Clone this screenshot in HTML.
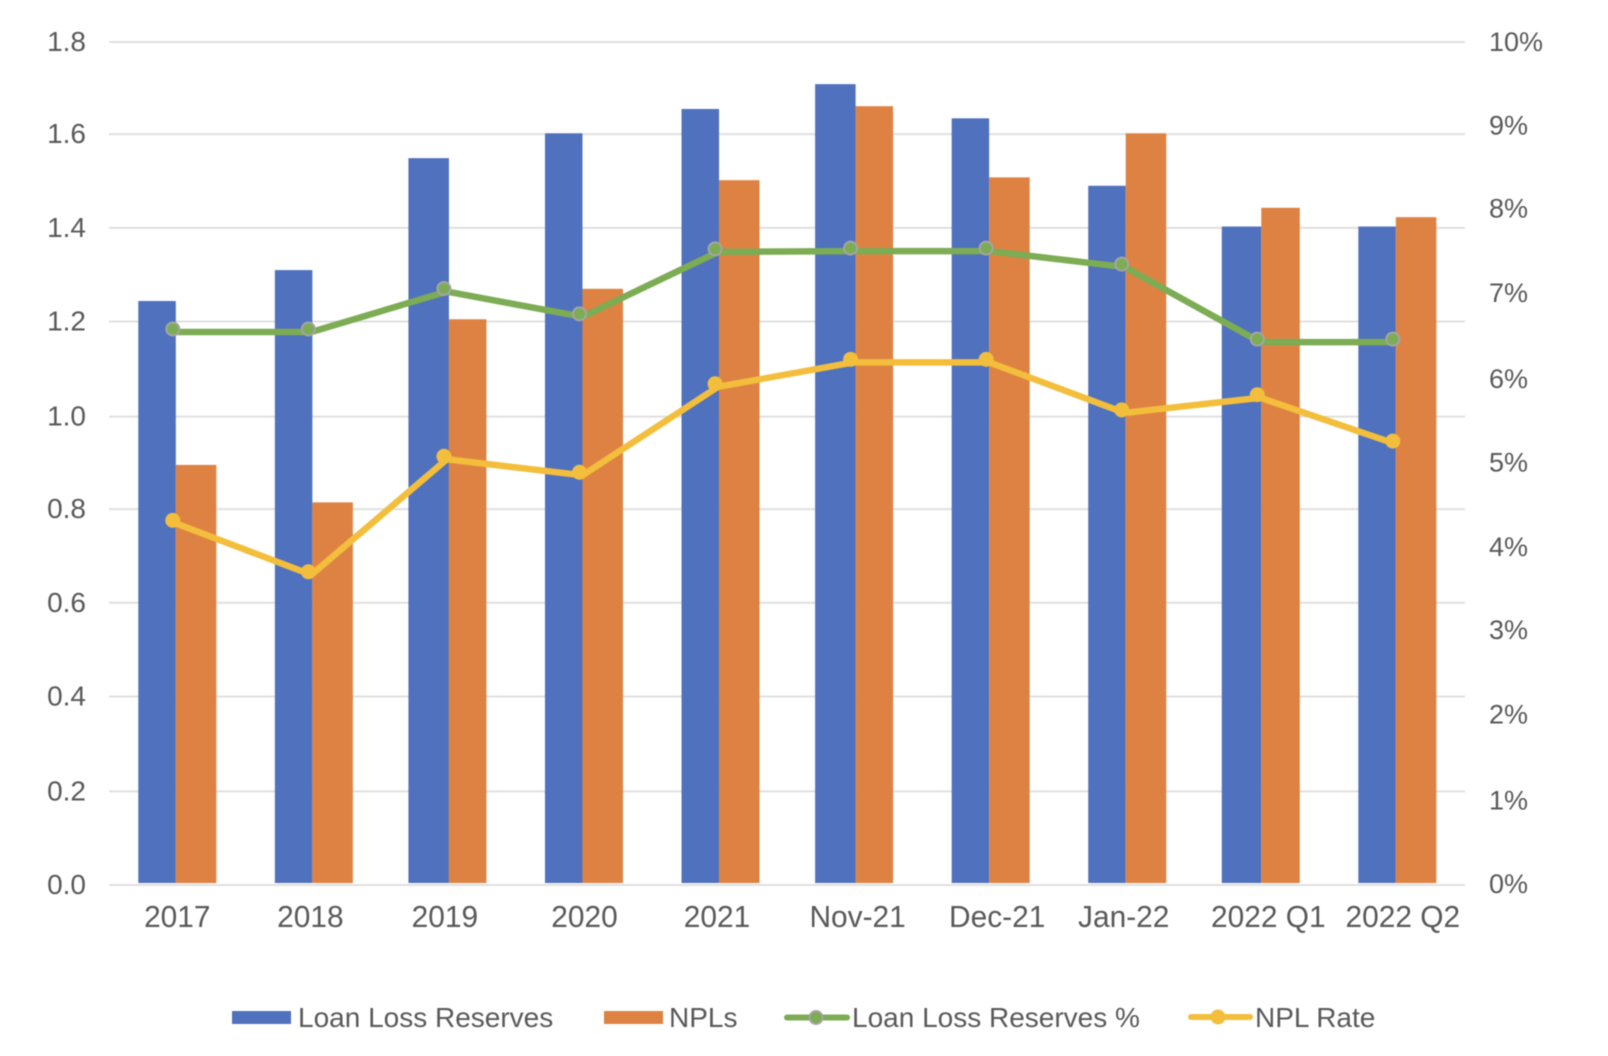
<!DOCTYPE html>
<html lang="en">
<head>
<meta charset="utf-8">
<title>Loan Loss Reserves and NPLs</title>
<style>
html,body{margin:0;padding:0;background:#fff;}
body{width:1608px;height:1056px;overflow:hidden;}
svg{display:block;filter:blur(0.5px);}
text{font-family:"Liberation Sans",Arial,sans-serif;fill:#595959;}
</style>
</head>
<body>
<svg id="chart" xmlns="http://www.w3.org/2000/svg" width="1608" height="1056" viewBox="0 0 1608 1056">
  <g id="grid"></g>
  <g id="bars"></g>
  <g id="lines"></g>
  <g id="left-axis"></g>
  <g id="right-axis"></g>
  <g id="x-axis"></g>
  <g id="legend">
    <g>
      <rect x="232" y="1011" width="59" height="13" fill="#5071BD"/>
      <text x="298" y="1027" font-size="28">Loan Loss Reserves</text>
    </g>
    <g>
      <rect x="604" y="1011" width="59" height="13" fill="#DE8243"/>
      <text x="669" y="1027" font-size="28">NPLs</text>
    </g>
    <g>
      <line x1="787" y1="1017.5" x2="847" y2="1017.5" stroke="#7CAC53" stroke-width="6" stroke-linecap="round"/>
      <circle cx="816" cy="1017.5" r="6.5" fill="#7CAC53" stroke="#A5A5A5" stroke-width="2"/>
      <text x="852" y="1027" font-size="28">Loan Loss Reserves %</text>
    </g>
    <g>
      <line x1="1191" y1="1017" x2="1250" y2="1017" stroke="#F3BE3B" stroke-width="6" stroke-linecap="round"/>
      <circle cx="1218" cy="1017" r="7.5" fill="#F3BE3B"/>
      <text x="1255" y="1027" font-size="28">NPL Rate</text>
    </g>
  </g>
</svg>
<script>
const categories = ["2017","2018","2019","2020","2021","Nov-21","Dec-21","Jan-22","2022 Q1","2022 Q2"];
const loanLossReserves = [1.247,1.313,1.552,1.605,1.657,1.710,1.637,1.493,1.406,1.406];
const npls = [0.897,0.817,1.208,1.273,1.505,1.663,1.511,1.605,1.446,1.426];
const loanLossReservesPct = [6.56,6.56,7.04,6.74,7.51,7.52,7.52,7.33,6.44,6.44];
const nplRate = [4.29,3.68,5.05,4.86,5.91,6.20,6.20,5.60,5.78,5.23];
const leftTicks = [0,0.2,0.4,0.6,0.8,1.0,1.2,1.4,1.6,1.8];
const rightTicks = [0,1,2,3,4,5,6,7,8,9,10];

const NS = "http://www.w3.org/2000/svg";
const plotTop = 42, plotBottom = 885, gridLeft = 109, gridRight = 1465;
const groupStart = 138.3, groupStep = 135.56, blueWidth = 37.5, groupWidth = 78;
const leftMax = 1.8, rightMax = 10;
const markerDx = -3, markerDy = -3;

function yLeft(v){ return plotBottom - (v / leftMax) * (plotBottom - plotTop); }
function yRight(v){ return plotBottom - (v / rightMax) * (plotBottom - plotTop); }
function groupX(i){ return groupStart + i * groupStep; }
function splitX(i){ return groupX(i) + blueWidth; }
function make(tag, parentId){
  const el = document.createElementNS(NS, tag);
  document.getElementById(parentId).appendChild(el);
  return el;
}
function slug(s){ return String(s).toLowerCase().replace(/[^a-z0-9]+/g, '-'); }

/* the reference image is slightly resampled, so these layout nudges follow its pixel drift */
function gridNudge(t){ return (t >= 1.2 && t <= 1.6) ? -1.5 : (t >= 0.4 && t <= 0.8) ? -1.2 : 0; }
function rightLabelNudge(i){ return [-1,0,-2,-2,-1,-1,0,-2,-2,-1,0][i]; }
function xLabelNudge(i){ return [-0.5,-3,-4,0,-3,2,6,-3,6,5][i]; }
function groupNudge(i){ return [0,1,-1,0,1,-1,0,1,-1,0][i]; }
function splitNudge(i){ return [0,1,2,0,1,2,0,1,1,0][i]; }

leftTicks.forEach(function(t){
  const line = make('line', 'grid');
  
  
  line.setAttribute('x1', gridLeft);
  line.setAttribute('x2', gridRight);
  line.setAttribute('y1', yLeft(t) + gridNudge(t));
  line.setAttribute('y2', yLeft(t) + gridNudge(t));
  line.setAttribute('stroke', '#E0E0E0');
  line.setAttribute('stroke-width', 2);

  const label = make('text', 'left-axis');
  
  
  label.setAttribute('x', 86);
  label.setAttribute('y', yLeft(t) + gridNudge(t) + 9);
  label.setAttribute('text-anchor', 'end');
  label.setAttribute('font-size', 28);
  label.textContent = t.toFixed(1);
});

rightTicks.forEach(function(t, i){
  const label = make('text', 'right-axis');
  
  
  label.setAttribute('x', 1489);
  label.setAttribute('y', yRight(t) + 9 + rightLabelNudge(i));
  label.setAttribute('font-size', 27);
  label.textContent = t + '%';
});

categories.forEach(function(c, i){
  const base = yLeft(0) - 2;
  const left = groupX(i) + groupNudge(i);
  const mid = splitX(i) + splitNudge(i);
  const right = groupX(i) + groupWidth + groupNudge(i);

  const blue = make('rect', 'bars');
  
  
  blue.setAttribute('x', left);
  blue.setAttribute('y', yLeft(loanLossReserves[i]));
  blue.setAttribute('width', mid - left);
  blue.setAttribute('height', base - yLeft(loanLossReserves[i]));
  blue.setAttribute('fill', '#5071BD');

  const orange = make('rect', 'bars');
  
  
  orange.setAttribute('x', mid);
  orange.setAttribute('y', yLeft(npls[i]));
  orange.setAttribute('width', right - mid);
  orange.setAttribute('height', base - yLeft(npls[i]));
  orange.setAttribute('fill', '#DE8243');

  const label = make('text', 'x-axis');
  
  
  label.setAttribute('text-anchor', 'middle');
  label.setAttribute('font-size', 30.5);
  label.setAttribute('transform', 'translate(' + (splitX(i) + 2 + xLabelNudge(i)) + ',927) scale(0.98,1)');
  label.textContent = c;
});

function drawLine(values, color, name){
  const pts = values.map(function(v, i){ return splitX(i) + ',' + yRight(v); }).join(' ');
  const line = make('polyline', 'lines');
  
  
  line.setAttribute('points', pts);
  line.setAttribute('fill', 'none');
  line.setAttribute('stroke', color);
  line.setAttribute('stroke-width', 6.5);
  line.setAttribute('stroke-linejoin', 'round');
  line.setAttribute('stroke-linecap', 'round');
}
function drawMarkers(values, color, name, r, stroke){
  values.forEach(function(v, i){
    const dot = make('circle', 'lines');
    
    
    dot.setAttribute('cx', splitX(i) + markerDx);
    dot.setAttribute('cy', yRight(v) + markerDy);
    dot.setAttribute('r', r);
    dot.setAttribute('fill', color);
    if (stroke) {
      dot.setAttribute('stroke', stroke);
      dot.setAttribute('stroke-width', 2);
    }
  });
}
drawLine(loanLossReservesPct, '#7CAC53', 'loan-loss-reserves-pct');
drawLine(nplRate, '#F3BE3B', 'npl-rate');
drawMarkers(loanLossReservesPct, '#7CAC53', 'loan-loss-reserves-pct', 6.5, '#A5A5A5');
drawMarkers(nplRate, '#F3BE3B', 'npl-rate', 7.5, null);
</script>
</body>
</html>
